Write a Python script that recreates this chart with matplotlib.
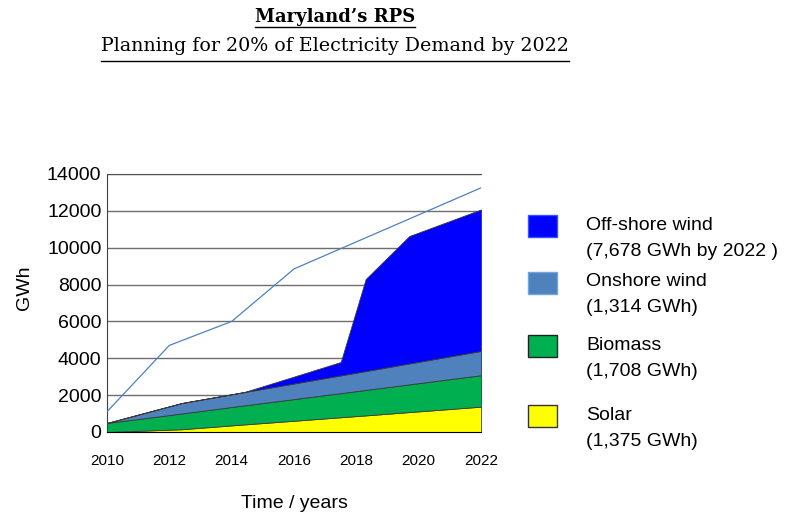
import matplotlib.pyplot as plt
from matplotlib.patches import Rectangle
from matplotlib.lines import Line2D

plt.rcParams['font.family'] = ['Liberation Sans', 'DejaVu Sans']

# RPS build-out by source, GWh (stacked from the bottom)
years = [2010, 2012.4, 2014.4, 2016, 2017.5, 2018.3, 2019.7, 2022]
solar = [0, 150, 410, 610, 800, 900, 1080, 1375]
biomass = [490, 856, 1034, 1176, 1310, 1381, 1505, 1708]
onshore = [0, 566, 722, 846, 963, 1025, 1135, 1314]
offshore = [0, 0, 0, 375, 725, 4994, 6915, 7678]

# 20% of electricity demand target, GWh
target_years = [2010, 2012, 2014, 2016, 2022]
target = [1100, 4700, 6000, 8850, 13250]

year_ticks = [2010, 2012, 2014, 2016, 2018, 2020, 2022]

sources = ['Off-shore wind', 'Onshore wind', 'Biomass', 'Solar']
colors = {'Off-shore wind': '#0000FF', 'Onshore wind': '#4F81BD',
          'Biomass': '#00B050', 'Solar': '#FFFF00'}
edges = {'Off-shore wind': '#3355ff', 'Onshore wind': '#6fa8dc',
         'Biomass': '#222222', 'Solar': '#333333'}
notes = {'Off-shore wind': f'({offshore[-1]:,} GWh by 2022 )',
         'Onshore wind': f'({onshore[-1]:,} GWh)',
         'Biomass': f'({biomass[-1]:,} GWh)',
         'Solar': f'({solar[-1]:,} GWh)'}

W, H = 787, 516
fig = plt.figure(figsize=(W / 100, H / 100), dpi=100)
ax = fig.add_axes([107 / W, 1 - 432 / H, (481 - 107) / W, (432 - 174) / H])

ax.stackplot(years, solar, biomass, onshore, offshore,
             colors=[colors['Solar'], colors['Biomass'],
                     colors['Onshore wind'], colors['Off-shore wind']],
             edgecolor='#3a3a3a', linewidth=0.6, zorder=2)
ax.plot(target_years, target, color='#4F81BD', lw=0.9, zorder=3)

ax.set_xlim(2010, 2022)
ax.set_ylim(0, 14000)
ax.set_yticks(range(0, 14001, 2000))
ax.set_xticks(year_ticks)
ax.yaxis.grid(True, color='#6e6e6e', lw=1.0, zorder=0)
ax.set_axisbelow(True)
ax.spines['right'].set_visible(False)
ax.spines['top'].set_color('#505050')
ax.spines['left'].set_color('#404040')
ax.spines['bottom'].set_color('black')
ax.tick_params(axis='y', length=0, labelsize=14, pad=4)
ax.tick_params(axis='x', length=0, labelsize=11, pad=16)

fig.text(25 / W, 1 - 288 / H, 'GWh', fontsize=14, rotation=90,
         ha='center', va='center')
fig.text(294 / W, 1 - 503 / H, 'Time / years', fontsize=14,
         ha='center', va='center')

# underlined headings
t1 = fig.text(335 / W, 1 - 17 / H, 'Maryland’s RPS', family='DejaVu Serif',
              weight='bold', fontsize=13, ha='center', va='center')
t2 = fig.text(335 / W, 1 - 46 / H, 'Planning for 20% of Electricity Demand by 2022',
              family='DejaVu Serif', fontsize=13.7, ha='center', va='center')
fig.canvas.draw()
r = fig.canvas.get_renderer()
for t, uy in [(t1, 27), (t2, 61)]:
    bb = t.get_window_extent(r)
    fig.add_artist(Line2D([bb.x0 / W, bb.x1 / W], [1 - uy / H, 1 - uy / H],
                          color='black', lw=1.0))

# legend drawn by hand: swatch plus two lines of text
swatch_top = [215, 272, 335, 405]
for name, top in zip(sources, swatch_top):
    fig.add_artist(Rectangle((528 / W, 1 - (top + 22) / H), 29 / W, 22 / H,
                             facecolor=colors[name], edgecolor=edges[name],
                             lw=1.0))
    fig.text(586 / W, 1 - (top + 10) / H, name, fontsize=14, va='center')
    fig.text(586 / W, 1 - (top + 36) / H, notes[name], fontsize=14, va='center')

fig.savefig('out.png', dpi=100)
